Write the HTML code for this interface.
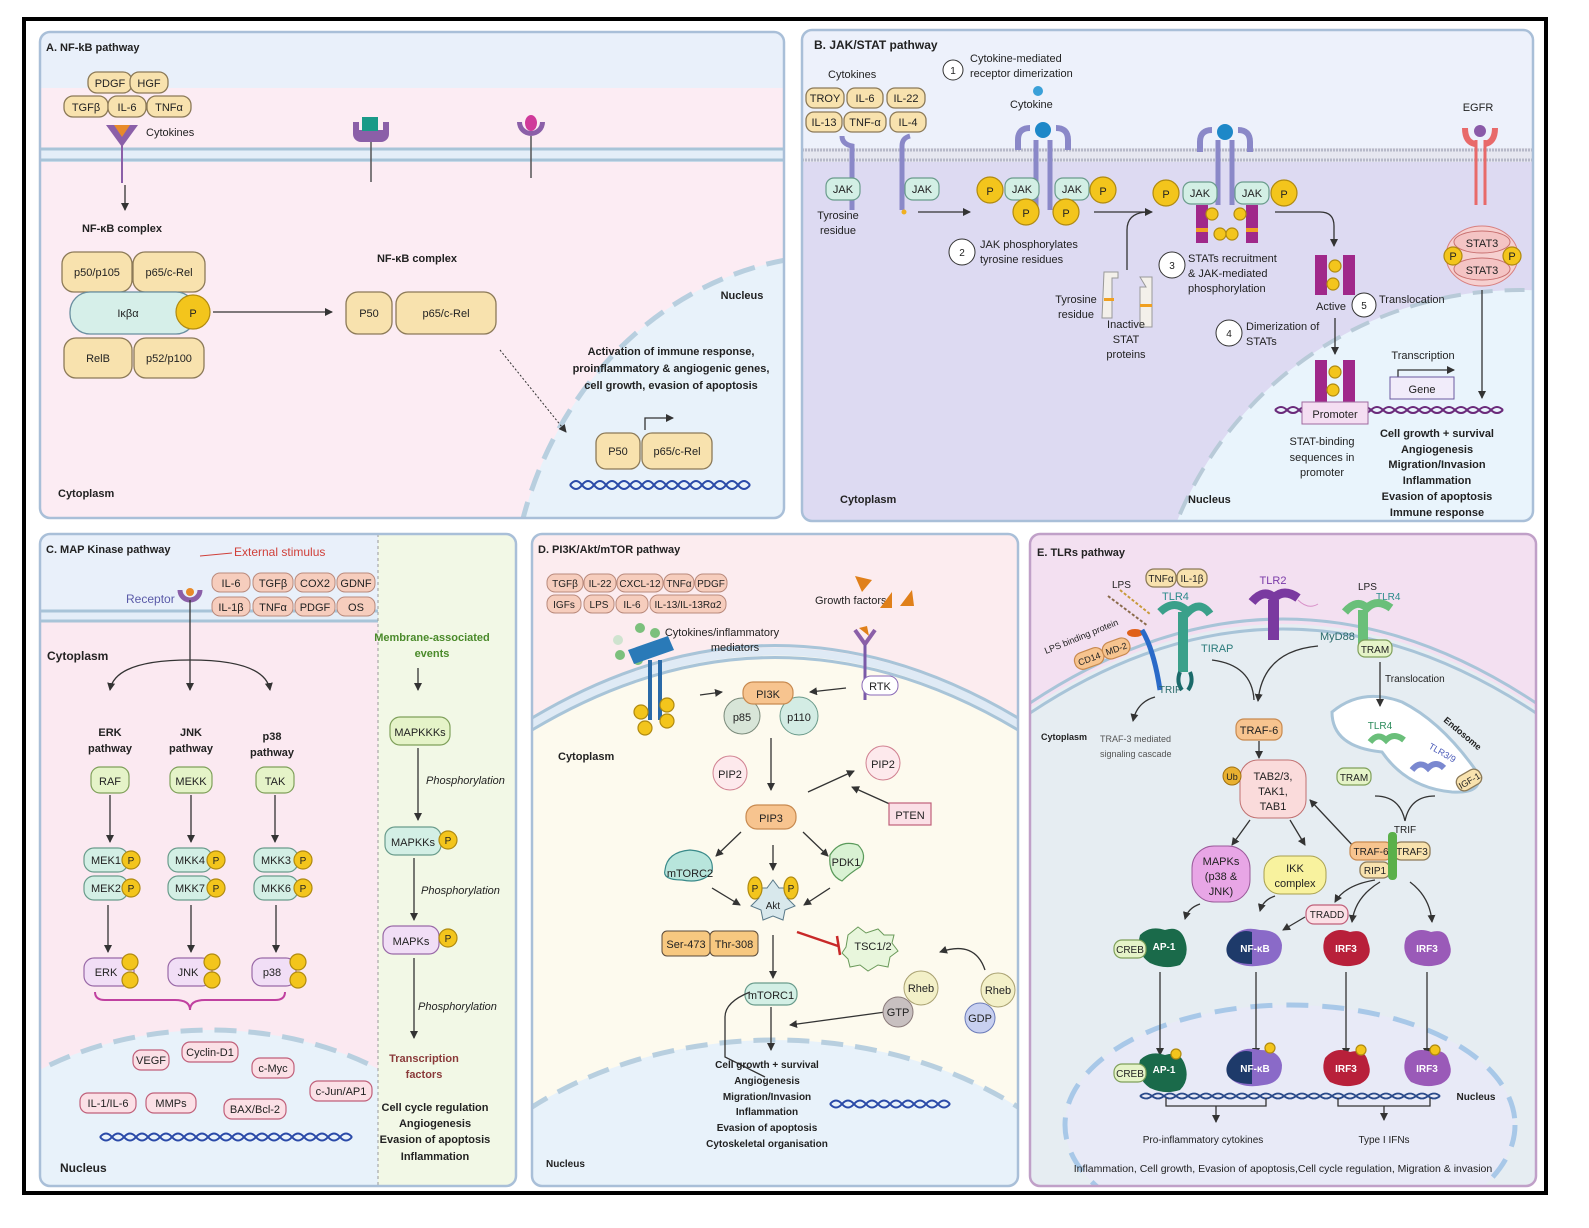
<!DOCTYPE html>
<html><head><meta charset="utf-8"><style>
html,body{margin:0;padding:0;background:#fff;width:1589px;height:1228px;overflow:hidden}
svg{display:block}
text{font-family:"Liberation Sans Narrow","Liberation Sans",sans-serif;font-size:11px;fill:#222}
.b{font-weight:bold}
.c{text-anchor:middle}
.tan{fill:#f8e2ae;stroke:#8c7a58;stroke-width:1.3}
.sal{fill:#f6cdbd;stroke:#b98a7c;stroke-width:1}
.mint{fill:#d3efe5;stroke:#6a9c8c;stroke-width:1.2}
.grn{fill:#e5f3c8;stroke:#7fa05a;stroke-width:1.2}
.lav{fill:#f1def6;stroke:#9a6aa8;stroke-width:1.2}
.pk{fill:#fbe0e6;stroke:#c0607a;stroke-width:1.2}
.org{fill:#f7c48f;stroke:#c88a50;stroke-width:1.2}
.P{fill:#f3c51c;stroke:#b08a10;stroke-width:1.2}
.ln{stroke:#333;stroke-width:1.3;fill:none}
.mem{stroke:#a8c4d8;stroke-width:3;fill:none}
</style></head><body>
<svg width="1589" height="1228" viewBox="0 0 1589 1228" xmlns="http://www.w3.org/2000/svg">
<defs>
<marker id="a" markerWidth="8" markerHeight="8" refX="7" refY="4" orient="auto" markerUnits="userSpaceOnUse"><path d="M0,0 L8,4 L0,8 z" fill="#333"/></marker>
<clipPath id="cA"><rect x="40" y="32" width="744" height="486" rx="10"/></clipPath>
<clipPath id="cB"><rect x="802" y="30" width="731" height="491" rx="10"/></clipPath>
<clipPath id="cC"><rect x="40" y="534" width="476" height="652" rx="10"/></clipPath>
<clipPath id="cCL"><rect x="40" y="534" width="338" height="652"/></clipPath>
<clipPath id="cD"><rect x="532" y="534" width="486" height="652" rx="10"/></clipPath>
<clipPath id="cE"><rect x="1030" y="534" width="506" height="652" rx="10"/></clipPath>
</defs>
<rect x="0" y="0" width="1589" height="1228" fill="#fff"/>
<rect x="24" y="19" width="1522" height="1174" fill="#fff" stroke="#000" stroke-width="4"/>

<!-- ========== PANEL A ========== -->
<g clip-path="url(#cA)">
<rect x="40" y="32" width="744" height="486" fill="#fcecf3"/>
<rect x="40" y="32" width="744" height="56" fill="#e9f0fa"/>
<rect x="40" y="148" width="744" height="14" fill="#e4eef8"/>
<line x1="40" y1="149" x2="784" y2="149" class="mem"/>
<line x1="40" y1="160" x2="784" y2="160" class="mem"/>
<ellipse cx="840" cy="620" rx="330" ry="365" fill="#e8f2fa" stroke="#b8cfdf" stroke-width="5" stroke-dasharray="22 12"/>
</g>
<rect x="40" y="32" width="744" height="486" rx="10" fill="none" stroke="#a9bfd8" stroke-width="2.5"/>
<text x="46" y="51" class="b">A. NF-kB pathway</text>
<rect x="88" y="72" width="44" height="21" rx="9" class="tan"/><text x="110" y="87" class="c">PDGF</text>
<rect x="130" y="72" width="38" height="21" rx="9" class="tan"/><text x="149" y="87" class="c">HGF</text>
<rect x="64" y="96" width="44" height="21" rx="9" class="tan"/><text x="86" y="111" class="c">TGFβ</text>
<rect x="108" y="96" width="38" height="21" rx="9" class="tan"/><text x="127" y="111" class="c">IL-6</text>
<rect x="147" y="96" width="44" height="21" rx="9" class="tan"/><text x="169" y="111" class="c">TNFα</text>
<path d="M106,125 L138,125 L122,147 Z" fill="#8b5fa8"/><path d="M114,125 L130,125 L122,137 Z" fill="#e88a2a"/>
<line x1="122" y1="145" x2="122" y2="183" stroke="#8b5fa8" stroke-width="2"/>
<text x="146" y="136">Cytokines</text>
<line x1="125" y1="185" x2="125" y2="210" class="ln" marker-end="url(#a)"/>
<path d="M353,122 v12 a8,8 0 0 0 8,8 h20 a8,8 0 0 0 8,-8 v-12 h-6 v8 h-24 v-8z" fill="#8b5fa8"/><rect x="362" y="117" width="16" height="14" fill="#1a9a88"/>
<line x1="371" y1="142" x2="371" y2="182" stroke="#555" stroke-width="1.5"/>
<path d="M517,122 a14,14 0 0 0 28,0 h-5 a9,9 0 0 1 -18,0z" fill="#8b5fa8"/><ellipse cx="531" cy="123" rx="6" ry="8" fill="#d03a9a"/>
<line x1="531" y1="136" x2="531" y2="178" stroke="#555" stroke-width="1.5"/>
<text x="122" y="232" class="b c">NF-κB complex</text>
<rect x="62" y="252" width="70" height="40" rx="12" class="tan"/><text x="97" y="276" class="c">p50/p105</text>
<rect x="133" y="252" width="72" height="40" rx="12" class="tan"/><text x="169" y="276" class="c">p65/c-Rel</text>
<rect x="70" y="292" width="126" height="42" rx="20" fill="#d6efe9" stroke="#6a8fa0" stroke-width="1.3"/><text x="128" y="317" class="c">Iκβα</text>
<circle cx="193" cy="312" r="17" class="P"/><text x="193" y="317" class="c">P</text>
<rect x="64" y="338" width="68" height="40" rx="12" class="tan"/><text x="98" y="362" class="c">RelB</text>
<rect x="134" y="338" width="70" height="40" rx="12" class="tan"/><text x="169" y="362" class="c">p52/p100</text>
<line x1="213" y1="312" x2="332" y2="312" class="ln" marker-end="url(#a)"/>
<text x="417" y="262" class="b c">NF-κB complex</text>
<rect x="346" y="292" width="46" height="42" rx="12" class="tan"/><text x="369" y="317" class="c">P50</text>
<rect x="396" y="292" width="100" height="42" rx="12" class="tan"/><text x="446" y="317" class="c">p65/c-Rel</text>
<line x1="500" y1="350" x2="566" y2="432" stroke="#333" stroke-width="1" stroke-dasharray="2 2" marker-end="url(#a)"/>
<text x="742" y="299" class="b c">Nucleus</text>
<text x="671" y="355" class="b c">Activation  of immune response,</text>
<text x="671" y="372" class="b c">proinflammatory &amp; angiogenic genes,</text>
<text x="671" y="389" class="b c">cell growth, evasion of apoptosis</text>
<path d="M645,430 v-12 h28" class="ln" stroke="#2a5a9a" marker-end="url(#a)"/>
<rect x="596" y="433" width="44" height="36" rx="10" class="tan"/><text x="618" y="455" class="c">P50</text>
<rect x="642" y="433" width="70" height="36" rx="10" class="tan"/><text x="677" y="455" class="c">p65/c-Rel</text>
<path d="M570,485 q6,-8 12,0 t12,0 t12,0 t12,0 t12,0 t12,0 t12,0 t12,0 t12,0 t12,0 t12,0 t12,0 t12,0 t12,0 t12,0" stroke="#2a4aa8" stroke-width="2" fill="none"/>
<path d="M570,485 q6,8 12,0 t12,0 t12,0 t12,0 t12,0 t12,0 t12,0 t12,0 t12,0 t12,0 t12,0 t12,0 t12,0 t12,0 t12,0" stroke="#2a4aa8" stroke-width="2" fill="none"/>
<text x="58" y="497" class="b">Cytoplasm</text>

<!-- ========== PANEL B ========== -->
<g clip-path="url(#cB)">
<rect x="802" y="30" width="731" height="491" fill="#dddaf2"/>
<rect x="802" y="30" width="731" height="120" fill="#edf1fb"/>
<rect x="802" y="148" width="731" height="14" fill="#e6e7f0"/>
<line x1="802" y1="150" x2="1533" y2="150" stroke="#b6b8c8" stroke-width="3" stroke-dasharray="2 1"/>
<line x1="802" y1="160" x2="1533" y2="160" stroke="#b6b8c8" stroke-width="3" stroke-dasharray="2 1"/>
<ellipse cx="1520" cy="660" rx="370" ry="370" fill="#e9f4fc" stroke="#b8cad8" stroke-width="4" stroke-dasharray="20 12"/>
</g>
<rect x="802" y="30" width="731" height="491" rx="10" fill="none" stroke="#a9bfd8" stroke-width="2.5"/>
<text x="814" y="49" class="b" style="font-size:12px">B. JAK/STAT pathway</text>
<text x="828" y="78">Cytokines</text>
<circle cx="953" cy="70" r="10" fill="#fff" stroke="#333"/><text x="953" y="74" class="c" style="font-size:10px">1</text>
<text x="970" y="62">Cytokine-mediated</text><text x="970" y="77">receptor dimerization</text>
<rect x="806" y="88" width="38" height="20" rx="8" class="tan"/><text x="825" y="102" class="c">TROY</text>
<rect x="847" y="88" width="36" height="20" rx="8" class="tan"/><text x="865" y="102" class="c">IL-6</text>
<rect x="887" y="88" width="38" height="20" rx="8" class="tan"/><text x="906" y="102" class="c">IL-22</text>
<rect x="806" y="112" width="36" height="20" rx="8" class="tan"/><text x="824" y="126" class="c">IL-13</text>
<rect x="844" y="112" width="42" height="20" rx="8" class="tan"/><text x="865" y="126" class="c">TNF-α</text>
<rect x="890" y="112" width="36" height="20" rx="8" class="tan"/><text x="908" y="126" class="c">IL-4</text>
<path d="M842,136 q0,8 10,10 v64" stroke="#8a88c8" stroke-width="5" fill="none"/>
<path d="M910,136 q-8,2 -8,10 v64" stroke="#8a88c8" stroke-width="5" fill="none"/>
<rect x="826" y="178" width="34" height="22" rx="8" class="mint"/><text x="843" y="193" class="c">JAK</text>
<rect x="905" y="178" width="34" height="22" rx="8" class="mint"/><text x="922" y="193" class="c">JAK</text>
<text x="838" y="219" class="c">Tyrosine</text><text x="838" y="234" class="c">residue</text>
<circle cx="904" cy="212" r="2.5" fill="#f0b020"/>
<line x1="918" y1="212" x2="970" y2="212" class="ln" marker-end="url(#a)"/>
<text x="1010" y="108">Cytokine</text>
<circle cx="1038" cy="91" r="5" fill="#3aa0d8"/>
<circle cx="1043" cy="130" r="8" fill="#1e88c8"/>
<path d="M1030,128 q-12,0 -12,12 v10 M1056,128 q12,0 12,12 v10" stroke="#8a88c8" stroke-width="6" fill="none"/>
<line x1="1036" y1="140" x2="1036" y2="210" stroke="#8a88c8" stroke-width="5"/><line x1="1050" y1="140" x2="1050" y2="210" stroke="#8a88c8" stroke-width="5"/>
<rect x="1005" y="178" width="34" height="22" rx="8" class="mint"/><text x="1022" y="193" class="c">JAK</text>
<rect x="1055" y="178" width="34" height="22" rx="8" class="mint"/><text x="1072" y="193" class="c">JAK</text>
<circle cx="990" cy="190" r="13" class="P"/><text x="990" y="195" class="c">P</text>
<circle cx="1103" cy="190" r="13" class="P"/><text x="1103" y="195" class="c">P</text>
<circle cx="1026" cy="212" r="13" class="P"/><text x="1026" y="217" class="c">P</text>
<circle cx="1066" cy="212" r="13" class="P"/><text x="1066" y="217" class="c">P</text>
<circle cx="962" cy="252" r="13" fill="#fff" stroke="#333"/><text x="962" y="256" class="c" style="font-size:10px">2</text>
<text x="980" y="248">JAK phosphorylates</text><text x="980" y="263">tyrosine residues</text>
<line x1="1094" y1="212" x2="1152" y2="212" class="ln" marker-end="url(#a)"/>
<path d="M1127,270 v-40 q0,-18 22,-18" class="ln"/>
<circle cx="1225" cy="132" r="8" fill="#1e88c8"/>
<path d="M1212,130 q-12,0 -12,12 v10 M1238,130 q12,0 12,12 v10" stroke="#8a88c8" stroke-width="6" fill="none"/>
<line x1="1218" y1="140" x2="1218" y2="205" stroke="#8a88c8" stroke-width="5"/><line x1="1232" y1="140" x2="1232" y2="205" stroke="#8a88c8" stroke-width="5"/>
<rect x="1183" y="182" width="34" height="22" rx="8" class="mint"/><text x="1200" y="197" class="c">JAK</text>
<rect x="1235" y="182" width="34" height="22" rx="8" class="mint"/><text x="1252" y="197" class="c">JAK</text>
<circle cx="1166" cy="193" r="13" class="P"/><text x="1166" y="198" class="c">P</text>
<circle cx="1284" cy="193" r="13" class="P"/><text x="1284" y="198" class="c">P</text>
<rect x="1196" y="205" width="12" height="38" fill="#a0288a"/><rect x="1246" y="205" width="12" height="38" fill="#a0288a"/>
<rect x="1196" y="228" width="12" height="4" fill="#f0a020"/><rect x="1246" y="228" width="12" height="4" fill="#f0a020"/>
<circle cx="1212" cy="214" r="6" class="P"/><circle cx="1240" cy="214" r="6" class="P"/><circle cx="1220" cy="234" r="6" class="P"/><circle cx="1232" cy="234" r="6" class="P"/>
<circle cx="1172" cy="265" r="13" fill="#fff" stroke="#333"/><text x="1172" y="269" class="c" style="font-size:10px">3</text>
<text x="1188" y="262">STATs recruitment</text><text x="1188" y="277">&amp; JAK-mediated</text><text x="1188" y="292">phosphorylation</text>
<path d="M1104,272 h14 v6 h-6 v40 h-10z" fill="#f3f0ea" stroke="#999"/><rect x="1104" y="298" width="10" height="3" fill="#f0a020"/>
<path d="M1140,277 h12 v50 h-12 v-40 h6z" fill="#f3f0ea" stroke="#999"/><rect x="1140" y="304" width="12" height="3" fill="#f0a020"/>
<text x="1076" y="303" class="c">Tyrosine</text><text x="1076" y="318" class="c">residue</text>
<text x="1126" y="328" class="c">Inactive</text><text x="1126" y="343" class="c">STAT</text><text x="1126" y="358" class="c">proteins</text>
<path d="M1275,212 h45 q14,0 14,14 v20" class="ln" marker-end="url(#a)"/>
<rect x="1315" y="255" width="12" height="40" fill="#a0288a"/><rect x="1343" y="255" width="12" height="40" fill="#a0288a"/>
<circle cx="1335" cy="266" r="6" class="P"/><circle cx="1333" cy="284" r="6" class="P"/>
<text x="1331" y="310" class="c">Active</text>
<circle cx="1364" cy="305" r="12" fill="#fff" stroke="#333"/><text x="1364" y="309" class="c" style="font-size:10px">5</text>
<text x="1379" y="303">Translocation</text>
<circle cx="1229" cy="333" r="13" fill="#fff" stroke="#333"/><text x="1229" y="337" class="c" style="font-size:10px">4</text>
<text x="1246" y="330">Dimerization of</text><text x="1246" y="345">STATs</text>
<line x1="1335" y1="318" x2="1335" y2="354" class="ln" marker-end="url(#a)"/>
<rect x="1315" y="360" width="12" height="42" fill="#a0288a"/><rect x="1343" y="360" width="12" height="42" fill="#a0288a"/>
<circle cx="1335" cy="372" r="6" class="P"/><circle cx="1333" cy="390" r="6" class="P"/>
<path d="M1275,410 q6,-6 12,0 t12,0 t12,0 t12,0 t12,0 t12,0 t12,0 t12,0 t12,0 t12,0 t12,0 t12,0 t12,0 t12,0 t12,0 t12,0 t12,0 t12,0 t12,0" stroke="#6a2a7a" stroke-width="2" fill="none"/>
<path d="M1275,410 q6,6 12,0 t12,0 t12,0 t12,0 t12,0 t12,0 t12,0 t12,0 t12,0 t12,0 t12,0 t12,0 t12,0 t12,0 t12,0 t12,0 t12,0 t12,0 t12,0" stroke="#6a2a7a" stroke-width="2" fill="none"/>
<rect x="1302" y="402" width="66" height="22" fill="#f4def2" stroke="#a06aa0"/><text x="1335" y="418" class="c">Promoter</text>
<text x="1423" y="359" class="c">Transcription</text>
<path d="M1398,378 v-8 h56" class="ln" stroke="#5a4a9a" marker-end="url(#a)"/>
<rect x="1390" y="377" width="64" height="22" fill="#f1ecfa" stroke="#6a5aa0"/><text x="1422" y="393" class="c">Gene</text>
<text x="1322" y="445" class="c">STAT-binding</text><text x="1322" y="461" class="c">sequences in</text><text x="1322" y="476" class="c">promoter</text>
<text x="1437" y="437" class="b c">Cell growth + survival</text>
<text x="1437" y="453" class="b c">Angiogenesis</text>
<text x="1437" y="468" class="b c">Migration/Invasion</text>
<text x="1437" y="484" class="b c">Inflammation</text>
<text x="1437" y="500" class="b c">Evasion of apoptosis</text>
<text x="1437" y="516" class="b c">Immune response</text>
<text x="1478" y="111" class="c">EGFR</text>
<path d="M1465,128 q0,14 10,16 M1495,128 q0,14 -10,16" stroke="#e86a6a" stroke-width="6" fill="none"/>
<circle cx="1480" cy="131" r="6" fill="#8a5aa8"/>
<line x1="1476" y1="140" x2="1476" y2="205" stroke="#e86a6a" stroke-width="3"/><line x1="1485" y1="140" x2="1485" y2="205" stroke="#e86a6a" stroke-width="3"/>
<ellipse cx="1482" cy="256" rx="36" ry="30" fill="#f6d0d0" stroke="#d88080"/>
<ellipse cx="1482" cy="242" rx="28" ry="11" fill="#f4c4c4" stroke="#c87070"/><text x="1482" y="247" class="c">STAT3</text>
<ellipse cx="1482" cy="269" rx="28" ry="11" fill="#f4c4c4" stroke="#c87070"/><text x="1482" y="274" class="c">STAT3</text>
<circle cx="1453" cy="256" r="9" class="P"/><text x="1453" y="260" class="c">P</text>
<circle cx="1512" cy="256" r="9" class="P"/><text x="1512" y="260" class="c">P</text>
<line x1="1482" y1="290" x2="1482" y2="398" class="ln" marker-end="url(#a)"/>
<text x="840" y="503" class="b">Cytoplasm</text>
<text x="1188" y="503" class="b">Nucleus</text>

<!-- ========== PANEL C ========== -->
<g clip-path="url(#cC)">
<rect x="40" y="534" width="476" height="652" fill="#fbe9f1"/>
<rect x="378" y="534" width="140" height="652" fill="#f2f8e6"/>
<rect x="40" y="534" width="338" height="76" fill="#e9f0fa"/>
<rect x="40" y="610" width="338" height="12" fill="#e4eef8"/>
<line x1="40" y1="611" x2="378" y2="611" class="mem"/><line x1="40" y1="621" x2="378" y2="621" class="mem"/>
<g clip-path="url(#cCL)">
<ellipse cx="210" cy="1240" rx="290" ry="210" fill="#e8f2fa" stroke="#b8cfdf" stroke-width="5" stroke-dasharray="22 12"/>
</g>
<line x1="378" y1="534" x2="378" y2="1186" stroke="#999" stroke-dasharray="3 3"/>
</g>
<rect x="40" y="534" width="476" height="652" rx="10" fill="none" stroke="#a9bfd8" stroke-width="2.5"/>
<text x="46" y="553" class="b">C. MAP Kinase pathway</text>
<text x="234" y="556" style="fill:#d0403a;font-size:12px">External stimulus</text>
<line x1="200" y1="556" x2="232" y2="553" stroke="#d0403a"/>
<text x="126" y="603" style="fill:#5a5aa8;font-size:12px">Receptor</text>
<path d="M180,590 a10,10 0 0 0 20,0" stroke="#8b5fa8" stroke-width="5" fill="none"/><circle cx="190" cy="592" r="4" fill="#e88a2a"/>
<rect x="212" y="573" width="38" height="19" rx="8" class="sal"/><text x="231" y="587" class="c">IL-6</text>
<rect x="253" y="573" width="40" height="19" rx="8" class="sal"/><text x="273" y="587" class="c">TGFβ</text>
<rect x="295" y="573" width="40" height="19" rx="8" class="sal"/><text x="315" y="587" class="c">COX2</text>
<rect x="337" y="573" width="38" height="19" rx="8" class="sal"/><text x="356" y="587" class="c">GDNF</text>
<rect x="212" y="597" width="38" height="19" rx="8" class="sal"/><text x="231" y="611" class="c">IL-1β</text>
<rect x="253" y="597" width="40" height="19" rx="8" class="sal"/><text x="273" y="611" class="c">TNFα</text>
<rect x="295" y="597" width="40" height="19" rx="8" class="sal"/><text x="315" y="611" class="c">PDGF</text>
<rect x="337" y="597" width="38" height="19" rx="8" class="sal"/><text x="356" y="611" class="c">OS</text>
<line x1="190" y1="600" x2="190" y2="660" stroke="#333" stroke-width="1.3"/>
<text x="47" y="660" class="b" style="font-size:12px">Cytoplasm</text>
<path d="M190,660 q-75,0 -80,30" class="ln" marker-end="url(#a)"/>
<line x1="190" y1="660" x2="190" y2="690" class="ln" marker-end="url(#a)"/>
<path d="M190,660 q75,0 80,30" class="ln" marker-end="url(#a)"/>
<text x="110" y="736" class="b c">ERK</text><text x="110" y="752" class="b c">pathway</text>
<text x="191" y="736" class="b c">JNK</text><text x="191" y="752" class="b c">pathway</text>
<text x="272" y="740" class="b c">p38</text><text x="272" y="756" class="b c">pathway</text>
<rect x="91" y="767" width="38" height="26" rx="9" class="grn"/><text x="110" y="785" class="c">RAF</text>
<rect x="170" y="767" width="42" height="26" rx="9" class="grn"/><text x="191" y="785" class="c">MEKK</text>
<rect x="256" y="767" width="38" height="26" rx="9" class="grn"/><text x="275" y="785" class="c">TAK</text>
<line x1="110" y1="795" x2="110" y2="842" class="ln" marker-end="url(#a)"/>
<line x1="191" y1="795" x2="191" y2="842" class="ln" marker-end="url(#a)"/>
<line x1="275" y1="795" x2="275" y2="842" class="ln" marker-end="url(#a)"/>
<rect x="84" y="848" width="44" height="24" rx="10" class="mint"/><text x="106" y="864" class="c">MEK1</text>
<rect x="84" y="876" width="44" height="24" rx="10" class="mint"/><text x="106" y="892" class="c">MEK2</text>
<rect x="168" y="848" width="44" height="24" rx="10" class="mint"/><text x="190" y="864" class="c">MKK4</text>
<rect x="168" y="876" width="44" height="24" rx="10" class="mint"/><text x="190" y="892" class="c">MKK7</text>
<rect x="254" y="848" width="44" height="24" rx="10" class="mint"/><text x="276" y="864" class="c">MKK3</text>
<rect x="254" y="876" width="44" height="24" rx="10" class="mint"/><text x="276" y="892" class="c">MKK6</text>
<circle cx="131" cy="860" r="9" class="P"/><text x="131" y="864" class="c" style="font-size:10px">P</text>
<circle cx="131" cy="888" r="9" class="P"/><text x="131" y="892" class="c" style="font-size:10px">P</text>
<circle cx="216" cy="860" r="9" class="P"/><text x="216" y="864" class="c" style="font-size:10px">P</text>
<circle cx="216" cy="888" r="9" class="P"/><text x="216" y="892" class="c" style="font-size:10px">P</text>
<circle cx="303" cy="860" r="9" class="P"/><text x="303" y="864" class="c" style="font-size:10px">P</text>
<circle cx="303" cy="888" r="9" class="P"/><text x="303" y="892" class="c" style="font-size:10px">P</text>
<line x1="108" y1="905" x2="108" y2="952" class="ln" marker-end="url(#a)"/>
<line x1="191" y1="905" x2="191" y2="952" class="ln" marker-end="url(#a)"/>
<line x1="276" y1="905" x2="276" y2="952" class="ln" marker-end="url(#a)"/>
<rect x="84" y="958" width="50" height="28" rx="10" class="lav"/><text x="106" y="976" class="c">ERK</text>
<rect x="168" y="958" width="44" height="28" rx="10" class="lav"/><text x="188" y="976" class="c">JNK</text>
<rect x="252" y="958" width="44" height="28" rx="10" class="lav"/><text x="272" y="976" class="c">p38</text>
<circle cx="130" cy="962" r="8" class="P"/><circle cx="130" cy="980" r="8" class="P"/>
<circle cx="212" cy="962" r="8" class="P"/><circle cx="212" cy="980" r="8" class="P"/>
<circle cx="298" cy="962" r="8" class="P"/><circle cx="298" cy="980" r="8" class="P"/>
<path d="M95,992 q0,8 10,8 h70 q15,0 15,10 q0,-10 15,-10 h70 q10,0 10,-8" stroke="#c040a0" stroke-width="2" fill="none"/>
<rect x="133" y="1050" width="36" height="20" rx="8" class="pk"/><text x="151" y="1064" class="c">VEGF</text>
<rect x="182" y="1042" width="56" height="20" rx="8" class="pk"/><text x="210" y="1056" class="c">Cyclin-D1</text>
<rect x="252" y="1058" width="42" height="20" rx="8" class="pk"/><text x="273" y="1072" class="c">c-Myc</text>
<rect x="80" y="1093" width="56" height="20" rx="8" class="pk"/><text x="108" y="1107" class="c">IL-1/IL-6</text>
<rect x="146" y="1093" width="50" height="20" rx="8" class="pk"/><text x="171" y="1107" class="c">MMPs</text>
<rect x="224" y="1099" width="62" height="20" rx="8" class="pk"/><text x="255" y="1113" class="c">BAX/Bcl-2</text>
<rect x="310" y="1081" width="62" height="20" rx="8" class="pk"/><text x="341" y="1095" class="c">c-Jun/AP1</text>
<path d="M100,1137 q6,-7 12,0 t12,0 t12,0 t12,0 t12,0 t12,0 t12,0 t12,0 t12,0 t12,0 t12,0 t12,0 t12,0 t12,0 t12,0 t12,0 t12,0 t12,0 t12,0 t12,0 t12,0" stroke="#2a4aa8" stroke-width="2" fill="none"/>
<path d="M100,1137 q6,7 12,0 t12,0 t12,0 t12,0 t12,0 t12,0 t12,0 t12,0 t12,0 t12,0 t12,0 t12,0 t12,0 t12,0 t12,0 t12,0 t12,0 t12,0 t12,0 t12,0 t12,0" stroke="#2a4aa8" stroke-width="2" fill="none"/>
<text x="60" y="1172" class="b" style="font-size:12px">Nucleus</text>
<text x="432" y="641" class="b c" style="fill:#4a8a2a">Membrane-associated</text>
<text x="432" y="657" class="b c" style="fill:#4a8a2a">events</text>
<line x1="418" y1="668" x2="418" y2="690" class="ln" marker-end="url(#a)"/>
<rect x="390" y="717" width="60" height="28" rx="10" class="grn"/><text x="420" y="736" class="c">MAPKKKs</text>
<line x1="418" y1="748" x2="418" y2="820" class="ln" marker-end="url(#a)"/>
<text x="426" y="784" style="font-style:italic">Phosphorylation</text>
<rect x="385" y="827" width="56" height="28" rx="10" class="mint"/><text x="413" y="846" class="c">MAPKKs</text>
<circle cx="448" cy="840" r="9" class="P"/><text x="448" y="844" class="c" style="font-size:10px">P</text>
<line x1="414" y1="858" x2="414" y2="920" class="ln" marker-end="url(#a)"/>
<text x="421" y="894" style="font-style:italic">Phosphorylation</text>
<rect x="383" y="926" width="56" height="28" rx="10" class="lav"/><text x="411" y="945" class="c">MAPKs</text>
<circle cx="448" cy="938" r="9" class="P"/><text x="448" y="942" class="c" style="font-size:10px">P</text>
<line x1="414" y1="958" x2="414" y2="1038" class="ln" marker-end="url(#a)"/>
<text x="418" y="1010" style="font-style:italic">Phosphorylation</text>
<text x="424" y="1062" class="b c" style="fill:#8a3a3a">Transcription</text>
<text x="424" y="1078" class="b c" style="fill:#8a3a3a">factors</text>
<text x="435" y="1111" class="b c">Cell cycle regulation</text>
<text x="435" y="1127" class="b c">Angiogenesis</text>
<text x="435" y="1143" class="b c">Evasion of apoptosis</text>
<text x="435" y="1160" class="b c">Inflammation</text>

<!-- ========== PANEL D ========== -->
<g clip-path="url(#cD)">
<rect x="532" y="534" width="486" height="652" fill="#fcecef"/>
<path d="M532,725 Q775,580 1018,725 L1018,1186 L532,1186Z" fill="#fdfaee"/>
<path d="M532,724 Q775,579 1018,724" stroke="#dfeaf5" stroke-width="8" fill="none"/>
<path d="M532,718 Q775,573 1018,718" stroke="#a8c4d8" stroke-width="3" fill="none"/>
<path d="M532,730 Q775,585 1018,730" stroke="#a8c4d8" stroke-width="3" fill="none"/>
<ellipse cx="775" cy="1330" rx="380" ry="290" fill="#e8f2fa" stroke="#b8cfdf" stroke-width="5" stroke-dasharray="22 12"/>
</g>
<rect x="532" y="534" width="486" height="652" rx="10" fill="none" stroke="#a9bfd8" stroke-width="2.5"/>
<text x="538" y="553" class="b">D. PI3K/Akt/mTOR pathway</text>
<g>
<rect x="547" y="574" width="36" height="18" rx="8" class="sal"/><text x="565" y="587" class="c" style="font-size:10px">TGFβ</text>
<rect x="584" y="574" width="32" height="18" rx="8" class="sal"/><text x="600" y="587" class="c" style="font-size:10px">IL-22</text>
<rect x="617" y="574" width="46" height="18" rx="8" class="sal"/><text x="640" y="587" class="c" style="font-size:10px">CXCL-12</text>
<rect x="664" y="574" width="30" height="18" rx="8" class="sal"/><text x="679" y="587" class="c" style="font-size:10px">TNFα</text>
<rect x="695" y="574" width="32" height="18" rx="8" class="sal"/><text x="711" y="587" class="c" style="font-size:10px">PDGF</text>
<rect x="547" y="595" width="34" height="18" rx="8" class="sal"/><text x="564" y="608" class="c" style="font-size:10px">IGFs</text>
<rect x="584" y="595" width="30" height="18" rx="8" class="sal"/><text x="599" y="608" class="c" style="font-size:10px">LPS</text>
<rect x="616" y="595" width="32" height="18" rx="8" class="sal"/><text x="632" y="608" class="c" style="font-size:10px">IL-6</text>
<rect x="650" y="595" width="76" height="18" rx="8" class="sal"/><text x="688" y="608" class="c" style="font-size:10px">IL-13/IL-13Rα2</text>
</g>
<text x="815" y="604">Growth factors</text>
<path d="M855,576 L872,580 L862,592Z M880,608 L892,592 L892,608Z M900,606 L912,590 L914,606Z" fill="#e0801a"/>
<circle cx="618" cy="640" r="5" fill="#cfe3cf"/><circle cx="640" cy="628" r="5" fill="#7cc07c"/><circle cx="655" cy="633" r="5" fill="#7cc07c"/><circle cx="620" cy="655" r="5" fill="#7cc07c"/><circle cx="638" cy="660" r="5" fill="#7cc07c"/>
<path d="M628,650 l40,-14 l6,14 l-40,14z" fill="#2a7ab8"/>
<line x1="650" y1="660" x2="650" y2="720" stroke="#2a6aa8" stroke-width="4"/><line x1="660" y1="660" x2="660" y2="720" stroke="#2a6aa8" stroke-width="4"/>
<circle cx="641" cy="712" r="7" class="P"/><circle cx="645" cy="728" r="7" class="P"/><circle cx="667" cy="705" r="7" class="P"/><circle cx="667" cy="721" r="7" class="P"/>
<text x="722" y="636" class="c">Cytokines/inflammatory</text><text x="735" y="651" class="c">mediators</text>
<path d="M855,630 l10,14 l10,-14" stroke="#8b5fa8" stroke-width="4" fill="none"/><path d="M859,628 l10,8 l-2,-10z" fill="#e0801a"/>
<line x1="865" y1="645" x2="865" y2="700" stroke="#7a5aa8" stroke-width="3"/>
<rect x="862" y="676" width="36" height="19" rx="9" fill="#fff" stroke="#8a6ab8"/><text x="880" y="690" class="c">RTK</text>
<line x1="700" y1="695" x2="722" y2="692" class="ln" marker-end="url(#a)"/>
<line x1="846" y1="688" x2="810" y2="692" class="ln" marker-end="url(#a)"/>
<circle cx="742" cy="716" r="18" fill="#d8e5d8" stroke="#7a8a7a"/><text x="742" y="721" class="c">p85</text>
<circle cx="799" cy="716" r="19" fill="#d3ece4" stroke="#6a9a8a"/><text x="799" y="721" class="c">p110</text>
<rect x="743" y="682" width="50" height="22" rx="10" class="org"/><text x="768" y="698" class="c">PI3K</text>
<line x1="771" y1="738" x2="771" y2="790" class="ln" marker-end="url(#a)"/>
<circle cx="730" cy="773" r="17" fill="#fde9ec" stroke="#d08090"/><text x="730" y="778" class="c">PIP2</text>
<circle cx="883" cy="763" r="17" fill="#fde9ec" stroke="#d08090"/><text x="883" y="768" class="c">PIP2</text>
<line x1="808" y1="792" x2="854" y2="771" class="ln" marker-end="url(#a)"/>
<line x1="892" y1="805" x2="852" y2="787" class="ln" marker-end="url(#a)"/>
<rect x="889" y="803" width="42" height="22" class="pk"/><text x="910" y="819" class="c">PTEN</text>
<rect x="746" y="805" width="50" height="24" rx="11" class="org"/><text x="771" y="822" class="c">PIP3</text>
<line x1="741" y1="832" x2="716" y2="856" class="ln" marker-end="url(#a)"/>
<line x1="773" y1="845" x2="773" y2="870" class="ln" marker-end="url(#a)"/>
<line x1="803" y1="832" x2="828" y2="856" class="ln" marker-end="url(#a)"/>
<path d="M665,870 q2,-18 25,-20 q25,2 22,22 q-10,12 -30,8 q-20,0 -17,-10z" fill="#b8e5dc" stroke="#3a8a8a" stroke-width="1.2"/><text x="690" y="877" class="c">mTORC2</text>
<path d="M830,855 q10,-16 28,-10 q10,10 2,22 q-10,6 -18,14 q-14,-6 -12,-26z" fill="#d9f2d3" stroke="#5a9a5a" stroke-width="1.2"/><text x="846" y="866" class="c">PDK1</text>
<line x1="712" y1="888" x2="740" y2="905" class="ln" marker-end="url(#a)"/>
<line x1="830" y1="888" x2="804" y2="905" class="ln" marker-end="url(#a)"/>
<path d="M773,880 l6,8 l10,0 l-2,10 l8,8 l-10,4 l-2,10 l-10,-4 l-10,4 l-2,-10 l-10,-4 l8,-8 l-2,-10 l10,0z" fill="#d8e8ec" stroke="#5a7a8a"/><text x="773" y="909" class="c" style="font-size:10px">Akt</text>
<ellipse cx="755" cy="888" rx="7" ry="11" class="P"/><text x="755" y="892" class="c" style="font-size:10px">P</text>
<ellipse cx="791" cy="888" rx="7" ry="11" class="P"/><text x="791" y="892" class="c" style="font-size:10px">P</text>
<rect x="662" y="931" width="48" height="25" rx="5" fill="#f7c880" stroke="#5a4a3a"/><text x="686" y="948" class="c">Ser-473</text>
<rect x="710" y="931" width="48" height="25" rx="5" fill="#f7c880" stroke="#5a4a3a"/><text x="734" y="948" class="c">Thr-308</text>
<line x1="797" y1="932" x2="838" y2="946" stroke="#c82828" stroke-width="2.5"/><line x1="837" y1="936" x2="840" y2="955" stroke="#c82828" stroke-width="2.5"/>
<path d="M848,935 l10,-8 l8,6 l12,-4 l6,6 l10,0 l-2,8 l6,8 l-8,6 l-2,10 l-10,-2 l-10,6 l-8,-6 l-10,2 l-2,-8 l-6,-6 l4,-6z" fill="#e8f6dc" stroke="#6a9a5a"/><text x="873" y="950" class="c">TSC1/2</text>
<line x1="773" y1="935" x2="773" y2="978" class="ln" marker-end="url(#a)"/>
<rect x="745" y="983" width="52" height="22" rx="10" class="mint"/><text x="771" y="999" class="c">mTORC1</text>
<path d="M750,992 q-25,10 -25,25 v40 l40,20" class="ln" stroke="#555"/>
<line x1="771" y1="1007" x2="771" y2="1050" class="ln" marker-end="url(#a)"/>
<line x1="900" y1="1010" x2="790" y2="1025" class="ln" marker-end="url(#a)"/>
<circle cx="921" cy="988" r="17" fill="#f3f0c8" stroke="#a8a070"/><text x="921" y="992" class="c">Rheb</text>
<circle cx="898" cy="1012" r="15" fill="#c8c0c0" stroke="#8a7a7a"/><text x="898" y="1016" class="c">GTP</text>
<circle cx="998" cy="990" r="17" fill="#f3f0c8" stroke="#a8a070"/><text x="998" y="994" class="c">Rheb</text>
<circle cx="980" cy="1018" r="15" fill="#c8d0f0" stroke="#6a7ab8"/><text x="980" y="1022" class="c">GDP</text>
<path d="M985,970 q-10,-30 -45,-18" class="ln" marker-end="url(#a)"/>
<text x="767" y="1068" class="b c" style="font-size:10px">Cell growth + survival</text>
<text x="767" y="1084" class="b c" style="font-size:10px">Angiogenesis</text>
<text x="767" y="1100" class="b c" style="font-size:10px">Migration/Invasion</text>
<text x="767" y="1115" class="b c" style="font-size:10px">Inflammation</text>
<text x="767" y="1131" class="b c" style="font-size:10px">Evasion of apoptosis</text>
<text x="767" y="1147" class="b c" style="font-size:10px">Cytoskeletal organisation</text>
<path d="M830,1104 q6,-7 12,0 t12,0 t12,0 t12,0 t12,0 t12,0 t12,0 t12,0 t12,0 t12,0" stroke="#2a4aa8" stroke-width="2" fill="none"/>
<path d="M830,1104 q6,7 12,0 t12,0 t12,0 t12,0 t12,0 t12,0 t12,0 t12,0 t12,0 t12,0" stroke="#2a4aa8" stroke-width="2" fill="none"/>
<text x="558" y="760" class="b">Cytoplasm</text>
<text x="546" y="1167" class="b" style="font-size:10px">Nucleus</text>

<!-- ========== PANEL E ========== -->
<g clip-path="url(#cE)">
<rect x="1030" y="534" width="506" height="652" fill="#f3e0f1"/>
<path d="M1030,708 Q1283,540 1536,708 L1536,1186 L1030,1186Z" fill="#e6edf2"/>
<path d="M1030,703 Q1283,535 1536,703" stroke="#a8c4d8" stroke-width="3" fill="none"/>
<path d="M1030,713 Q1283,545 1536,713" stroke="#a8c4d8" stroke-width="3" fill="none"/>
<ellipse cx="1290" cy="1125" rx="225" ry="120" fill="#e8eaf7" stroke="#a8c8e8" stroke-width="5" stroke-dasharray="22 14"/>
<path d="M1332,712 q30,-25 70,-10 q40,20 75,70 q8,22 -25,20 q-45,-4 -70,-40 q-50,-5 -50,-40z" fill="#fff" stroke="#a8c4d8" stroke-width="3"/>
</g>
<rect x="1030" y="534" width="506" height="652" rx="10" fill="none" stroke="#c0a0c8" stroke-width="2.5"/>
<text x="1037" y="556" class="b">E. TLRs pathway</text>
<rect x="1146" y="569" width="30" height="18" rx="8" class="tan"/><text x="1161" y="582" class="c" style="font-size:10px">TNFα</text>
<rect x="1177" y="569" width="30" height="18" rx="8" class="tan"/><text x="1192" y="582" class="c" style="font-size:10px">IL-1β</text>
<text x="1112" y="588" style="font-size:10px">LPS</text>
<text x="1162" y="600" style="font-size:11px;fill:#2a8a8a">TLR4</text>
<path d="M1108,596 l40,30" stroke="#8a6a4a" stroke-width="2" stroke-dasharray="3 2"/><path d="M1120,590 l30,24" stroke="#c89a3a" stroke-width="2" stroke-dasharray="3 2"/>
<ellipse cx="1135" cy="633" rx="8" ry="4" fill="#e0601a"/>
<path d="M1142,630 q12,20 18,60" stroke="#2a6ac8" stroke-width="5" fill="none"/>
<path d="M1160,612 q15,-14 28,0 q12,-12 22,2" stroke="#3aa08a" stroke-width="8" fill="none"/>
<rect x="1178" y="612" width="10" height="60" fill="#3aa08a"/>
<path d="M1180,672 q-4,10 2,18 M1190,672 q4,10 -2,18" stroke="#1a6a6a" stroke-width="4" fill="none"/>
<text x="1046" y="654" style="font-size:9px" transform="rotate(-22 1046 654)">LPS binding protein</text>
<rect x="1074" y="650" width="30" height="17" rx="8" class="org" transform="rotate(-20 1089 658)"/><text x="1089" y="662" class="c" style="font-size:9px" transform="rotate(-20 1089 658)">CD14</text>
<rect x="1102" y="640" width="28" height="17" rx="8" class="org" transform="rotate(-20 1116 648)"/><text x="1116" y="652" class="c" style="font-size:9px" transform="rotate(-20 1116 648)">MD-2</text>
<text x="1201" y="652" style="fill:#2a7a7a">TIRAP</text>
<text x="1170" y="693" class="c" style="font-size:10px;fill:#2a6a6a">TRIF</text>
<path d="M1155,697 q-18,5 -22,24" class="ln" stroke="#555" marker-end="url(#a)"/>
<text x="1041" y="740" class="b" style="font-size:9px">Cytoplasm</text>
<text x="1100" y="742" style="font-size:9px;fill:#555">TRAF-3 mediated</text><text x="1100" y="757" style="font-size:9px;fill:#555">signaling cascade</text>
<text x="1273" y="584" class="c" style="fill:#7a3aa8">TLR2</text>
<path d="M1252,602 q12,-14 22,-4 q10,-10 24,0" stroke="#7a3aa0" stroke-width="9" fill="none"/>
<rect x="1268" y="600" width="11" height="40" fill="#7a3aa0"/>
<path d="M1298,600 q10,10 20,4" stroke="#d890c8" fill="none"/>
<text x="1320" y="640" style="fill:#2a6a6a">MyD88</text>
<path d="M1318,646 q-55,5 -60,55" class="ln" stroke="#555" marker-end="url(#a)"/>
<path d="M1212,660 q40,5 42,40" class="ln" stroke="#555"/>
<text x="1358" y="590" style="font-size:10px">LPS</text><text x="1376" y="600" style="font-size:10px;fill:#2a8a8a">TLR4</text>
<path d="M1345,612 q12,-14 22,-4 q10,-10 24,0" stroke="#6abf7a" stroke-width="8" fill="none"/>
<rect x="1358" y="610" width="10" height="40" fill="#6abf7a"/>
<rect x="1358" y="640" width="34" height="17" rx="7" class="grn"/><text x="1375" y="653" class="c" style="font-size:10px">TRAM</text>
<line x1="1380" y1="662" x2="1380" y2="706" class="ln" stroke="#555" marker-end="url(#a)"/>
<text x="1385" y="682" style="font-size:10px">Translocation</text>
<text x="1380" y="729" class="c" style="font-size:10px;fill:#2a8a5a">TLR4</text>
<path d="M1370,742 q8,-10 16,-2 q8,-8 18,0" stroke="#6abf7a" stroke-width="6" fill="none"/>
<rect x="1337" y="768" width="34" height="17" rx="7" class="grn"/><text x="1354" y="781" class="c" style="font-size:10px">TRAM</text>
<text x="1443" y="721" style="font-size:9px;font-weight:bold" transform="rotate(40 1443 721)">Endosome</text>
<text x="1428" y="748" style="font-size:9px;fill:#4a5ab8" transform="rotate(30 1428 748)">TLR3/9</text>
<path d="M1412,770 q8,-10 16,-2 q8,-8 16,0" stroke="#7a88d0" stroke-width="6" fill="none"/>
<rect x="1456" y="772" width="26" height="16" rx="7" class="tan" transform="rotate(-30 1469 780)"/><text x="1469" y="784" class="c" style="font-size:9px" transform="rotate(-30 1469 780)">IGF-1</text>
<path d="M1375,796 q25,0 30,25 M1435,796 q-25,0 -30,25" class="ln" stroke="#555"/>
<text x="1405" y="833" class="c" style="font-size:10px">TRIF</text>
<rect x="1236" y="719" width="46" height="21" rx="8" class="org"/><text x="1259" y="734" class="c">TRAF-6</text>
<line x1="1259" y1="741" x2="1259" y2="758" class="ln" marker-end="url(#a)"/>
<rect x="1240" y="760" width="66" height="58" rx="18" fill="#fadbdb" stroke="#c07070"/>
<text x="1273" y="780" class="c">TAB2/3,</text><text x="1273" y="795" class="c">TAK1,</text><text x="1273" y="810" class="c">TAB1</text>
<circle cx="1232" cy="776" r="9" fill="#e8b030" stroke="#a07010"/><text x="1232" y="780" class="c" style="font-size:9px">Ub</text>
<line x1="1355" y1="848" x2="1310" y2="800" class="ln" stroke="#555" marker-end="url(#a)"/>
<line x1="1250" y1="820" x2="1232" y2="845" class="ln" stroke="#555" marker-end="url(#a)"/>
<line x1="1290" y1="820" x2="1305" y2="845" class="ln" stroke="#555" marker-end="url(#a)"/>
<rect x="1192" y="846" width="58" height="56" rx="22" fill="#e8a6e6" stroke="#9a5a9a"/>
<text x="1221" y="865" class="c">MAPKs</text><text x="1221" y="880" class="c">(p38 &amp;</text><text x="1221" y="895" class="c">JNK)</text>
<rect x="1264" y="856" width="62" height="38" rx="16" fill="#f8f29e" stroke="#a8a050"/>
<text x="1295" y="872" class="c">IKK</text><text x="1295" y="887" class="c">complex</text>
<rect x="1350" y="842" width="42" height="18" rx="7" class="org"/><text x="1371" y="855" class="c" style="font-size:10px">TRAF-6</text>
<rect x="1394" y="842" width="36" height="18" rx="7" class="tan"/><text x="1412" y="855" class="c" style="font-size:10px">TRAF3</text>
<rect x="1360" y="862" width="30" height="16" rx="7" class="tan"/><text x="1375" y="874" class="c" style="font-size:10px">RIP1</text>
<rect x="1388" y="832" width="9" height="48" rx="4" fill="#5ab04a"/>
<path d="M1200,904 q-12,4 -15,15" class="ln" stroke="#555" marker-end="url(#a)"/>
<path d="M1275,896 q-12,4 -15,15" class="ln" stroke="#555" marker-end="url(#a)"/>
<path d="M1375,880 q-30,5 -40,22" class="ln" stroke="#555" marker-end="url(#a)"/>
<path d="M1380,882 q-25,15 -28,40" class="ln" stroke="#555" marker-end="url(#a)"/>
<path d="M1410,882 q20,15 22,40" class="ln" stroke="#555" marker-end="url(#a)"/>
<rect x="1306" y="905" width="42" height="19" rx="8" class="pk"/><text x="1327" y="918" class="c" style="font-size:10px">TRADD</text>
<line x1="1305" y1="917" x2="1283" y2="930" class="ln" stroke="#555" marker-end="url(#a)"/>
<path d="M1140,935 q10,-10 25,-5 q15,-5 20,10 q5,15 -5,25 q-15,5 -30,-2 q-15,-10 -10,-28z" fill="#1a6a4a"/>
<rect x="1114" y="940" width="32" height="18" rx="8" class="grn"/><text x="1130" y="953" class="c" style="font-size:10px">CREB</text>
<text x="1164" y="950" class="c b" style="font-size:10px;fill:#fff">AP-1</text>
<path d="M1230,940 q10,-15 30,-10 q20,0 22,15 q0,18 -18,20 q-20,4 -32,-5 q-8,-10 -2,-20z" fill="#8a6ac8"/>
<path d="M1230,940 q10,-12 22,-8 v32 q-18,0 -24,-8 q-4,-8 2,-16z" fill="#1e3a6a"/>
<text x="1255" y="952" class="c b" style="font-size:10px;fill:#fff">NF-κB</text>
<path d="M1325,938 q10,-12 25,-6 q15,-4 18,10 q6,15 -8,22 q-15,5 -30,-2 q-10,-10 -5,-24z" fill="#b8203a"/>
<text x="1346" y="952" class="c b" style="font-size:10px;fill:#fff">IRF3</text>
<path d="M1406,938 q10,-12 25,-6 q15,-4 18,10 q6,15 -8,22 q-15,5 -30,-2 q-10,-10 -5,-24z" fill="#9a5ab8"/>
<text x="1427" y="952" class="c b" style="font-size:10px;fill:#fff">IRF3</text>
<line x1="1160" y1="972" x2="1160" y2="1055" class="ln" stroke="#555" marker-end="url(#a)"/>
<line x1="1256" y1="972" x2="1256" y2="1055" class="ln" stroke="#555" marker-end="url(#a)"/>
<line x1="1346" y1="972" x2="1346" y2="1055" class="ln" stroke="#555" marker-end="url(#a)"/>
<line x1="1427" y1="972" x2="1427" y2="1055" class="ln" stroke="#555" marker-end="url(#a)"/>
<path d="M1140,1060 q10,-10 25,-5 q15,-5 20,10 q5,15 -5,25 q-15,5 -30,-2 q-15,-10 -10,-28z" fill="#1a6a4a"/>
<rect x="1114" y="1064" width="32" height="18" rx="8" class="grn"/><text x="1130" y="1077" class="c" style="font-size:10px">CREB</text>
<text x="1164" y="1073" class="c b" style="font-size:10px;fill:#fff">AP-1</text>
<circle cx="1176" cy="1054" r="5" class="P"/>
<path d="M1230,1060 q10,-15 30,-10 q20,0 22,15 q0,18 -18,20 q-20,4 -32,-5 q-8,-10 -2,-20z" fill="#8a6ac8"/>
<path d="M1230,1060 q10,-12 22,-8 v32 q-18,0 -24,-8 q-4,-8 2,-16z" fill="#1e3a6a"/>
<text x="1255" y="1072" class="c b" style="font-size:10px;fill:#fff">NF-κB</text>
<circle cx="1270" cy="1048" r="5" class="P"/>
<path d="M1325,1058 q10,-12 25,-6 q15,-4 18,10 q6,15 -8,22 q-15,5 -30,-2 q-10,-10 -5,-24z" fill="#b8203a"/>
<text x="1346" y="1072" class="c b" style="font-size:10px;fill:#fff">IRF3</text><circle cx="1361" cy="1050" r="5" class="P"/>
<path d="M1406,1058 q10,-12 25,-6 q15,-4 18,10 q6,15 -8,22 q-15,5 -30,-2 q-10,-10 -5,-24z" fill="#9a5ab8"/>
<text x="1427" y="1072" class="c b" style="font-size:10px;fill:#fff">IRF3</text><circle cx="1435" cy="1050" r="5" class="P"/>
<path d="M1140,1096 q6,-5 12,0 t12,0 t12,0 t12,0 t12,0 t12,0 t12,0 t12,0 t12,0 t12,0 t12,0 t12,0 t12,0 t12,0 t12,0 t12,0 t12,0 t12,0 t12,0 t12,0 t12,0 t12,0 t12,0 t12,0 t12,0" stroke="#2a4a8a" stroke-width="1.8" fill="none"/>
<path d="M1140,1096 q6,5 12,0 t12,0 t12,0 t12,0 t12,0 t12,0 t12,0 t12,0 t12,0 t12,0 t12,0 t12,0 t12,0 t12,0 t12,0 t12,0 t12,0 t12,0 t12,0 t12,0 t12,0 t12,0 t12,0 t12,0 t12,0" stroke="#2a4a8a" stroke-width="1.8" fill="none"/>
<path d="M1166,1098 v8 h100 v-8 M1216,1106 v16" class="ln" marker-end="url(#a)"/>
<path d="M1338,1098 v8 h92 v-8 M1384,1106 v14" class="ln" marker-end="url(#a)"/>
<text x="1476" y="1100" class="b c" style="font-size:10px">Nucleus</text>
<text x="1203" y="1143" class="c" style="font-size:10px">Pro-inflammatory cytokines</text>
<text x="1384" y="1143" class="c" style="font-size:10px">Type I IFNs</text>
<text x="1283" y="1172" class="c" style="font-size:10.5px">Inflammation, Cell growth, Evasion of apoptosis,Cell cycle regulation, Migration &amp; invasion</text>
</svg>
</body></html>
